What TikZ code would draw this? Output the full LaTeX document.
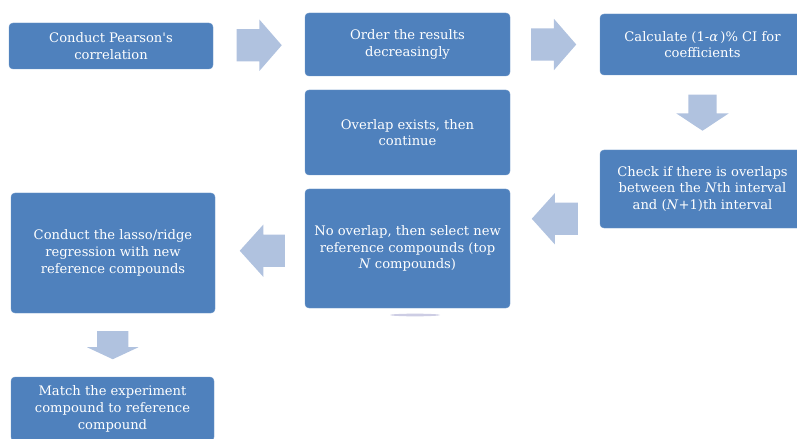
\documentclass[tikz,border=0pt]{standalone}
\usepackage{fontspec}
\setmainfont{DejaVu Serif}
\usetikzlibrary{shapes.arrows,calc}

\definecolor{boxblue}{HTML}{4F81BD}
\definecolor{arrowblue}{HTML}{B0C2DF}

\begin{document}
\begin{tikzpicture}[
    box/.style={rectangle, rounded corners=0.12cm, fill=boxblue, draw=boxblue!85!white,
        text=white, align=center, inner sep=0pt,
        font=\fontsize{11.2}{14.3}\selectfont},
    bigarrow/.style={single arrow, fill=arrowblue, draw=none, anchor=tail, inner xsep=0pt, inner ysep=0.48cm,
        minimum height=1.35cm, minimum width=1.53cm, single arrow head extend=0.285cm},
    downarrow/.style={bigarrow, shape border rotate=270, inner ysep=0pt}
]
\useasboundingbox (0,0) rectangle (23.91,-13.17);
\clip (0,0) rectangle (23.91,-13.17);

% Boxes
\node[box, minimum width=6.12cm, minimum height=1.38cm] (pearson) at (3.33,-1.38) {Conduct Pearson\textquotesingle s\\correlation};
\node[box, minimum width=6.15cm, minimum height=1.89cm] (order) at (12.225,-1.335) {Order the results\\decreasingly};
\node[box, minimum width=6.15cm, minimum height=1.83cm] (calc) at (21.075,-1.335) {Calculate (1-\textit{α}\,)\% CI for\\coefficients};
\node[box, minimum width=6.15cm, minimum height=2.55cm] (over) at (12.225,-3.975) {Overlap exists, then\\continue};
\node[box, minimum width=6.15cm, minimum height=2.34cm] (check) at (21.075,-5.67) {Check if there is overlaps\\between the \textit{N}th interval\\and (\textit{N}+1)th interval};

% faint shadow under the no-overlap box
\fill[blue!30!gray!50!white, opacity=0.6] (12.45,-9.45) ellipse (0.75cm and 0.04cm);

\node[box, minimum width=6.15cm, minimum height=3.57cm] (noover) at (12.225,-7.455) {No overlap, then select new\\reference compounds (top\\\textit{N} compounds)};
\node[box, minimum width=6.12cm, minimum height=3.6cm] (lasso) at (3.39,-7.59) {Conduct the lasso/ridge\\regression with new\\reference compounds};
\node[box, minimum width=6.09cm, minimum height=1.92cm] (match) at (3.375,-12.27) {Match the experiment\\compound to reference\\compound};

% Block arrows between the boxes
\node[bigarrow, single arrow tip angle=98] (a1) at ($(pearson.east)!0.5!(order.west)+(-0.675,0)$) {};
\node[bigarrow, single arrow tip angle=98] (a2) at ($(order.east)!0.5!(calc.west)+(-0.72,0)$) {};
\node[downarrow, minimum height=1.08cm, minimum width=1.56cm, inner xsep=0.42cm,
    single arrow head extend=0.36cm, single arrow tip angle=113] (a3) at ($(calc.south)!0.5!(check.north)+(0,0.54)$) {};
\node[bigarrow, shape border rotate=180, minimum height=1.38cm, single arrow tip angle=96] (a4)
    at ($(noover.east)!0.5!(check.west)+(0.69,0)$ |- 0,-5.925) {};
\node[bigarrow, shape border rotate=180, minimum width=1.56cm, single arrow head extend=0.3cm,
    single arrow tip angle=96] (a5) at ($(lasso.east)!0.5!(noover.west)+(0.75,0)$) {};
\node[downarrow, minimum height=0.84cm, inner xsep=0.465cm, single arrow head extend=0.3cm,
    single arrow tip angle=130] (a6) at ($(lasso.south)!0.5!(match.north)+(0,0.42)$) {};

\end{tikzpicture}
\end{document}
